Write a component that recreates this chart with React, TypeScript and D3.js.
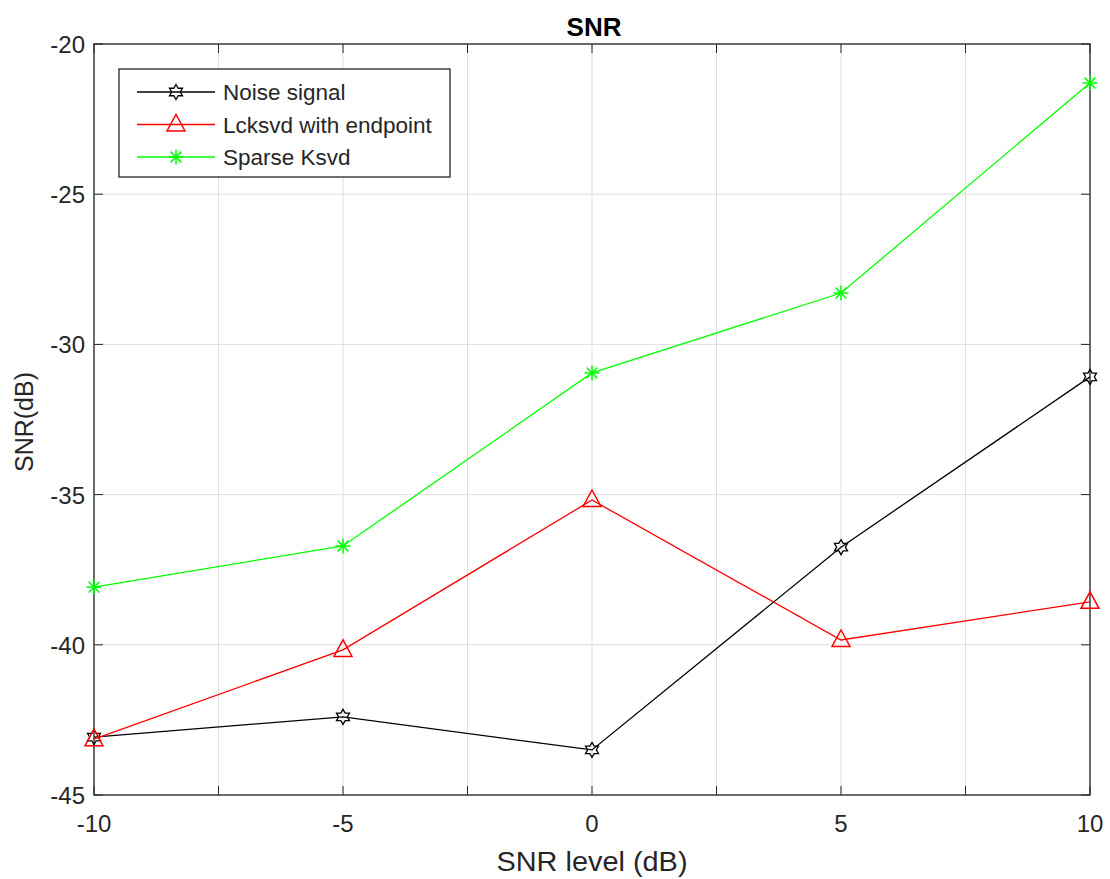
import React from "react";
import * as d3 from "d3";

const xLevels = [-10, -5, 0, 5, 10];
const noiseSignal = [-43.07, -42.4, -43.5, -36.75, -31.08];
const lcksvd = [-43.14, -40.17, -35.18, -39.84, -38.57];
const sparseKsvd = [-38.08, -36.71, -30.95, -28.29, -21.3];
const xTickLabels = [-10, -5, 0, 5, 10];
const yTickLabels = [-45, -40, -35, -30, -25, -20];
const seriesNames = ["Noise signal", "Lcksvd with endpoint", "Sparse Ksvd"];

const W = 1110, H = 879;
const L = 94, R = 1090, T = 44, B = 795;
const axisColor = "#262626";
const font = "'Liberation Sans', Arial, Helvetica, sans-serif";

const x = d3.scaleLinear().domain([-10, 10]).range([L, R]);
const y = d3.scaleLinear().domain([-45, -20]).range([B, T]);

function hexagram(cx: number, cy: number, r: number) {
  const pts: string[] = [];
  const ri = r * 0.58;
  for (let i = 0; i < 12; i++) {
    const a = (Math.PI / 6) * i - Math.PI / 2;
    const rr = i % 2 === 0 ? r : ri;
    pts.push(`${cx + rr * Math.cos(a)},${cy + rr * Math.sin(a)}`);
  }
  return <polygon points={pts.join(" ")} fill="none" stroke="#000" strokeWidth={1.3} />;
}

function triangle(cx: number, cy: number) {
  const pts = [
    [cx, cy - 10],
    [cx + 9, cy + 6.5],
    [cx - 9, cy + 6.5],
  ];
  return <polygon points={pts.map((p) => p.join(",")).join(" ")} fill="none" stroke="#ff0000" strokeWidth={1.5} />;
}

function asterisk(cx: number, cy: number, r: number) {
  const d = r * 0.72;
  return (
    <g stroke="#00ff00" strokeWidth={1.5}>
      <line x1={cx - r} y1={cy} x2={cx + r} y2={cy} />
      <line x1={cx} y1={cy - r} x2={cx} y2={cy + r} />
      <line x1={cx - d} y1={cy - d} x2={cx + d} y2={cy + d} />
      <line x1={cx - d} y1={cy + d} x2={cx + d} y2={cy - d} />
    </g>
  );
}

const series = [
  { name: seriesNames[0], values: noiseSignal, color: "#000000", marker: (cx: number, cy: number) => hexagram(cx, cy, 7.5) },
  { name: seriesNames[1], values: lcksvd, color: "#ff0000", marker: (cx: number, cy: number) => triangle(cx, cy) },
  { name: seriesNames[2], values: sparseKsvd, color: "#00ff00", marker: (cx: number, cy: number) => asterisk(cx, cy, 7.5) },
];

export default function App() {
  const line = d3.line<number>().x((_, i) => x(xLevels[i])).y((v) => y(v));
  const xGrid = d3.range(-10, 10.01, 2.5);
  const yGrid = d3.range(-45, -19.99, 5);
  return (
    <svg width={W} height={H} style={{ position: "absolute", left: 0, top: 0, background: "#fff" }}>
      <rect x={0} y={0} width={W} height={H} fill="#fff" />
      {xGrid.map((g) => (
        <line key={"gx" + g} x1={x(g)} x2={x(g)} y1={T} y2={B} stroke="#dfdfdf" strokeWidth={1} />
      ))}
      {yGrid.map((g) => (
        <line key={"gy" + g} x1={L} x2={R} y1={y(g)} y2={y(g)} stroke="#dfdfdf" strokeWidth={1} />
      ))}
      {xGrid.map((g) => (
        <g key={"tx" + g} stroke={axisColor} strokeWidth={1}>
          <line x1={x(g)} x2={x(g)} y1={B} y2={B - 9} />
          <line x1={x(g)} x2={x(g)} y1={T} y2={T + 9} />
        </g>
      ))}
      {yGrid.map((g) => (
        <g key={"ty" + g} stroke={axisColor} strokeWidth={1}>
          <line x1={L} x2={L + 9} y1={y(g)} y2={y(g)} />
          <line x1={R} x2={R - 9} y1={y(g)} y2={y(g)} />
        </g>
      ))}
      <rect x={L} y={T} width={R - L} height={B - T} fill="none" stroke={axisColor} strokeWidth={1.3} />
      {xTickLabels.map((t) => (
        <text key={"xl" + t} x={x(t)} y={B + 37} textAnchor="middle" fontFamily={font} fontSize={24} fill={axisColor}>
          {t}
        </text>
      ))}
      {yTickLabels.map((t) => (
        <text key={"yl" + t} x={L - 9} y={y(t) + 9} textAnchor="end" fontFamily={font} fontSize={24} fill={axisColor}>
          {t}
        </text>
      ))}
      <text x={594} y={36} textAnchor="middle" fontFamily={font} fontSize={26} fontWeight="bold" fill="#000">
        SNR
      </text>
      <text x={592} y={871} textAnchor="middle" fontFamily={font} fontSize={27} fill={axisColor}
        textLength={191} lengthAdjust="spacingAndGlyphs">
        SNR level (dB)
      </text>
      <text
        transform={`translate(33, 422) rotate(-90)`}
        textAnchor="middle"
        fontFamily={font}
        fontSize={25}
        fill={axisColor}
      >
        SNR(dB)
      </text>
      {series.map((s) => (
        <g key={s.name}>
          <path d={line(s.values) || ""} fill="none" stroke={s.color} strokeWidth={1.3} />
          {s.values.map((v, i) => (
            <g key={i}>{s.marker(x(xLevels[i]), y(v))}</g>
          ))}
        </g>
      ))}
      <rect x={119} y={69} width={331} height={108} fill="#fff" stroke={axisColor} strokeWidth={1.3} />
      {series.map((s, i) => {
        const ly = 92 + i * 32.5;
        return (
          <g key={"lg" + i}>
            <line x1={137} x2={215} y1={ly} y2={ly} stroke={s.color} strokeWidth={1.3} />
            {s.marker(176, ly)}
            <text x={223} y={ly + 8} fontFamily={font} fontSize={22.5} fill={axisColor}>
              {s.name}
            </text>
          </g>
        );
      })}
    </svg>
  );
}
